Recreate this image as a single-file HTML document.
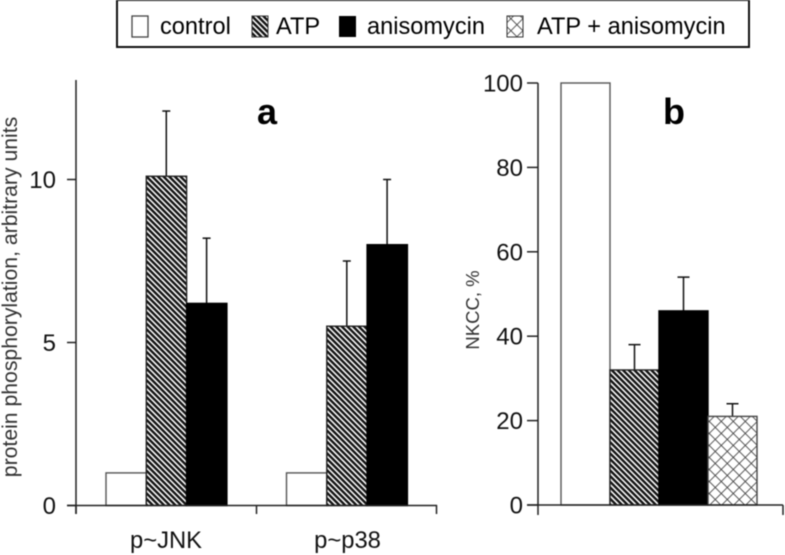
<!DOCTYPE html>
<html>
<head>
<meta charset="utf-8">
<style>
html,body{margin:0;padding:0;background:#fff;width:785px;height:555px;overflow:hidden}
svg{display:block;font-family:"Liberation Sans",Arial,sans-serif;filter:blur(0.45px)}
</style>
</head>
<body>
<svg id="chart" xmlns="http://www.w3.org/2000/svg" width="785" height="555" viewBox="0 0 785 555">
<defs>
<pattern id="hatch" width="4" height="4" patternUnits="userSpaceOnUse" patternTransform="rotate(45)">
<rect width="4" height="4" fill="#fff"/><rect width="4" height="2.4" fill="#111"/>
</pattern>
<pattern id="cross" width="8.5" height="8.5" patternUnits="userSpaceOnUse" patternTransform="rotate(45)">
<rect width="8.5" height="8.5" fill="#fff"/><path d="M0 0H8.5M0 0V8.5" stroke="#444" stroke-width="1.7" fill="none"/>
</pattern>
</defs>
<g id="legend">
<rect x="117" y="0" width="632" height="47" fill="#fff" stroke="#111" stroke-width="2"/>
<g><rect x="132" y="16" width="16" height="21" fill="#fff" stroke="#444" stroke-width="1.3"/><text x="160" y="34" font-size="23.6">control</text></g>
<g><rect x="252" y="16" width="16" height="21" fill="url(#hatch)" stroke="#333"/><text x="276" y="34" font-size="23.6">ATP</text></g>
<g><rect x="339" y="16" width="17" height="21" fill="#000"/><text x="367" y="34" font-size="23.6">anisomycin</text></g>
<g><rect x="507" y="16" width="16" height="21" fill="url(#cross)" stroke="#333"/><text x="537" y="34" font-size="23.6">ATP + anisomycin</text></g>
</g>
<g id="panelA"></g>
<g id="panelB"></g>
</svg>
<script>
var aGroups = ["p~JNK", "p~p38"];
var aControl = [1, 1];
var aATP = [10.1, 5.5];
var aAniso = [6.2, 8.0];
var aATPTop = [12.1, 7.5];
var aAnisoTop = [8.2, 10.0];
var aTicks = [0, 5, 10];

var bValues = [100, 32, 46, 21];
var bErrorTops = [null, 38, 54, 24];
var bSeries = ["control", "atp", "anisomycin", "atp-anisomycin"];
var bTicks = [0, 20, 40, 60, 80, 100];

var NS = "http://www.w3.org/2000/svg";
function mk(parent, tag, attrs, txt) {
  var e = document.createElementNS(NS, tag);
  for (var k in attrs) e.setAttribute(k, attrs[k]);
  if (txt !== undefined) e.textContent = txt;
  parent.appendChild(e);
  return e;
}
function yA(v) { return 505.5 - v * 32.6; }
function yB(v) { return 505 - v * 4.22; }
function xA(g, s) { return 106 + g * 180.5 + s * 40.3; }
function xB(s) { return 561 + s * 49; }
var fills = ["#fff", "url(#hatch)", "#000", "url(#cross)"];
var strokes = ["#555", "#222", "#000", "#444"];

function drawBar(parent, name, x, w, y, base, s) {
  var r = mk(parent, "rect", {x: x, y: y, width: w, height: base - y, fill: fills[s], stroke: strokes[s], "stroke-width": 1.4});
  
  
}
function drawErr(parent, name, x, y0, y1, cap) {
  var g = mk(parent, "g", {stroke: "#111", "stroke-width": 1.5, fill: "none"});
  
  
  mk(g, "line", {x1: x, x2: x, y1: y0, y2: y1});
  mk(g, "line", {x1: x - cap, x2: x + cap, y1: y1, y2: y1});
}
function drawLine(parent, name, x1, y1, x2, y2) {
  var l = mk(parent, "line", {x1: x1, y1: y1, x2: x2, y2: y2, stroke: "#222", "stroke-width": 1.5});
  
  
}
function drawText(parent, name, x, y, size, anchor, str, extra) {
  var attrs = {x: x, y: y, "font-size": size, "text-anchor": anchor, fill: "#111"};
  for (var k in (extra || {})) attrs[k] = extra[k];
  var t = mk(parent, "text", attrs, str);
  
  
}

var pa = document.getElementById("panelA");
aGroups.forEach(function (label, g) {
  drawBar(pa, "bar-control-" + g, xA(g, 0), 40.3, yA(aControl[g]), yA(0), 0);
  drawErr(pa, "error-atp-" + g, xA(g, 1) + 20, yA(aATP[g]), yA(aATPTop[g]), 4);
  drawErr(pa, "error-anisomycin-" + g, xA(g, 2) + 20, yA(aAniso[g]), yA(aAnisoTop[g]), 4);
  drawBar(pa, "bar-atp-" + g, xA(g, 1), 40.3, yA(aATP[g]), yA(0), 1);
  drawBar(pa, "bar-anisomycin-" + g, xA(g, 2), 40.3, yA(aAniso[g]), yA(0), 2);
  drawText(pa, "x-label-" + g, 166 + g * 181.5, 548, 23.8, "middle", label);
});
drawLine(pa, "y-axis-a", 76, 80, 76, 514);
drawLine(pa, "x-axis-a", 67, 505.5, 437, 505.5);
drawLine(pa, "x-tick-a-0", 76, 505, 76, 514);
drawLine(pa, "x-tick-a-1", 256.5, 505, 256.5, 514);
drawLine(pa, "x-tick-a-2", 436.5, 505, 436.5, 514);
aTicks.forEach(function (t) {
  drawLine(pa, "y-tick-a-" + t, 67, yA(t), 76, yA(t));
  drawText(pa, "y-label-a-" + t, 56, yA(t) + 8.5, 24, "end", String(t));
});
drawText(pa, "y-axis-title-a", 0, 0, 21.2, "middle", "protein phosphorylation, arbitrary units", {transform: "translate(17,297) rotate(-90)", fill: "#333"});
drawText(pa, "panel-label-a", 267, 124, 36, "middle", "a", {"font-weight": "bold", fill: "#000"});

var pb = document.getElementById("panelB");
bValues.forEach(function (v, s) {
  if (bErrorTops[s] !== null) {
    drawErr(pb, "error-" + bSeries[s], xB(s) + 24.5, yB(v), yB(bErrorTops[s]), 6);
  }
  drawBar(pb, "bar-" + bSeries[s], xB(s), 49, yB(v), yB(0), s);
});
drawLine(pb, "y-axis-b", 538, 83, 538, 515);
drawLine(pb, "x-axis-b", 527, 505, 783, 505);
drawLine(pb, "x-tick-b-end", 783, 505, 783, 515);
bTicks.forEach(function (t) {
  drawLine(pb, "y-tick-b-" + t, 527, yB(t), 538, yB(t));
  drawText(pb, "y-label-b-" + t, 523, yB(t) + 8.5, 24, "end", String(t));
});
drawText(pb, "y-axis-title-b", 0, 0, 18.5, "middle", "NKCC, %", {transform: "translate(479,310) rotate(-90)", fill: "#333"});
drawText(pb, "panel-label-b", 674, 124, 36, "middle", "b", {"font-weight": "bold", fill: "#000"});
</script>
</body>
</html>
